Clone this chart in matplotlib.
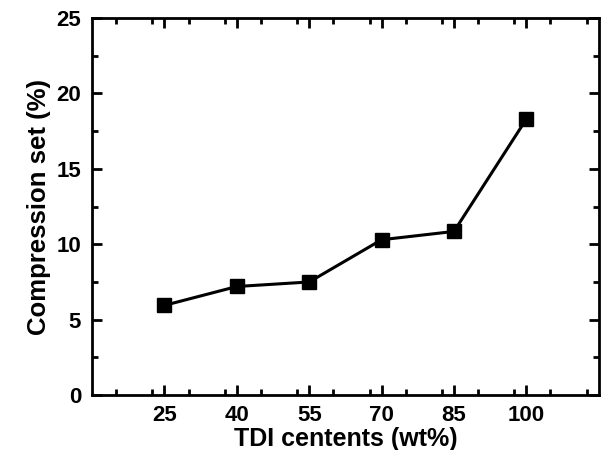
import matplotlib
matplotlib.use("Agg")
import matplotlib.pyplot as plt
from matplotlib.ticker import MultipleLocator

tdi_content = [25, 40, 55, 70, 85, 100]
compression_set = [5.95, 7.2, 7.5, 10.3, 10.85, 18.3]

plt.rcParams["font.family"] = ["Liberation Sans", "DejaVu Sans"]
plt.rcParams["font.weight"] = "bold"

fig = plt.figure(figsize=(6.06, 4.5), dpi=100)
ax = fig.add_axes([0.152, 0.122, 0.836, 0.838])

ax.plot(tdi_content, compression_set, color="black", linewidth=2.2,
        marker="s", markersize=10)

ax.set_xlim(10, 115)
ax.set_ylim(0, 25)
ax.set_xticks(tdi_content)
ax.xaxis.set_minor_locator(MultipleLocator(7.5))
ax.yaxis.set_major_locator(MultipleLocator(5))
ax.yaxis.set_minor_locator(MultipleLocator(2.5))

ax.tick_params(which="both", direction="in", top=True, right=True, width=2)
ax.tick_params(which="major", length=7, labelsize=16, pad=8)
ax.tick_params(axis="x", which="major", pad=7)
ax.tick_params(which="minor", length=4)
for spine in ax.spines.values():
    spine.set_linewidth(2)

ax.set_xlabel("TDI centents (wt%)", fontsize=18, fontweight="bold", labelpad=1)
ax.set_ylabel("Compression set (%)", fontsize=18.5, fontweight="bold", labelpad=4)

fig.savefig("out.png", dpi=100)
